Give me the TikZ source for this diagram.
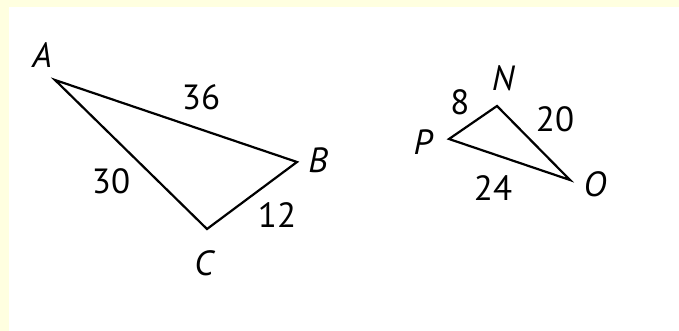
\documentclass[tikz,border=0pt]{standalone}
\usepackage{fontspec}
\setmainfont{PT Sans}
\definecolor{pagebg}{RGB}{255,255,224}
\begin{document}
\begin{tikzpicture}[x=1pt, y=-1pt,
  every node/.style={font=\fontsize{35}{40}\selectfont, inner sep=0pt},
  vlabel/.style={font=\fontsize{35}{40}\selectfont\itshape},
  side/.style={line width=2.2pt, line join=miter}]
  % frame
  \fill[pagebg] (0,0) rectangle (679,331);
  \fill[white] (9,7) rectangle (679,331);
  \useasboundingbox (0,0) rectangle (679,331);
  % triangle ABC
  \coordinate (A) at (55,80);
  \coordinate (B) at (297,162);
  \coordinate (C) at (207,229);
  \draw[side] (A) -- (B) -- (C) -- cycle;
  \node[vlabel] (lA) at (42,55) {A};
  \node[vlabel] (lB) at (318,160) {B};
  \node[vlabel] (lC) at (204,263) {C};
  \node (sAB) at (201,97) {36};
  \node (sAC) at (111,181) {30};
  \node (sBC) at (277,215) {12};
  % triangle NOP
  \coordinate (N) at (497,106);
  \coordinate (P) at (449,139);
  \coordinate (O) at (570,180);
  \draw[side] (N) -- (O) -- (P) -- cycle;
  \node[vlabel] (lN) at (503,78) {N};
  \node[vlabel] (lP) at (423,142) {P};
  \node[vlabel] (lO) at (595,184) {O};
  \node (sNP) at (460,102) {8};
  \node (sNO) at (555,119) {20};
  \node (sOP) at (493,188) {24};
\end{tikzpicture}
\end{document}
